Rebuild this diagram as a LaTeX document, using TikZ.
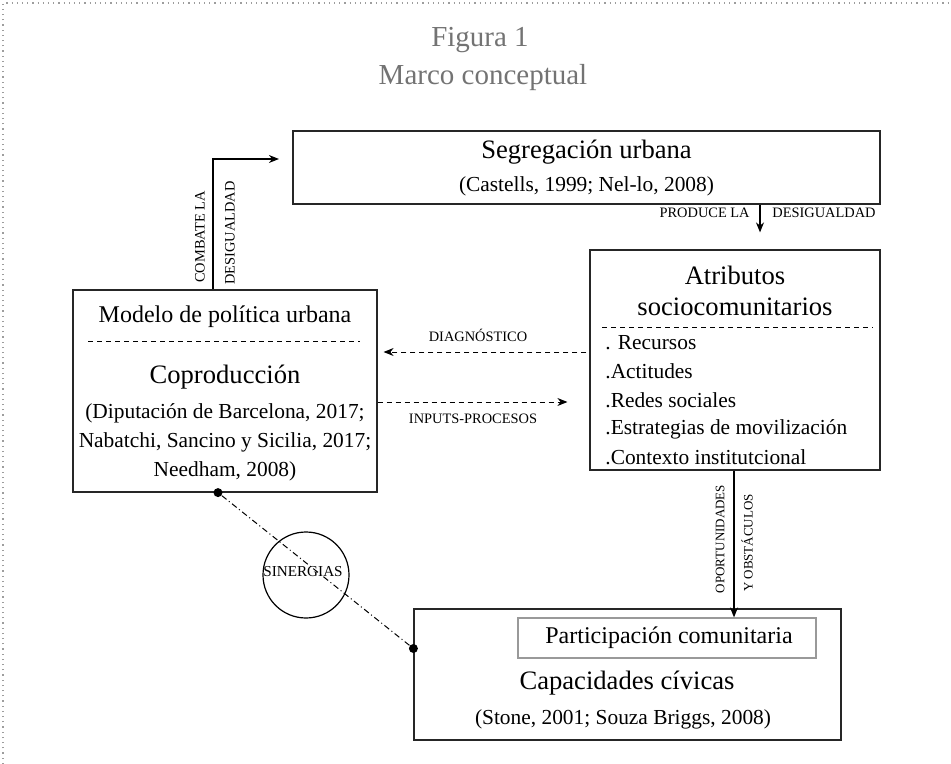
\documentclass[tikz,border=0pt]{standalone}
\usepackage{fontspec}
\setmainfont{Liberation Serif}
\usetikzlibrary{arrows.meta}
\definecolor{titlegray}{gray}{0.45}
\tikzset{
	box/.style={draw=black!85, line width=0.6pt, inner sep=0pt},
	arr/.style={-{Stealth[length=5pt,width=4pt]}, line width=0.6pt},
	dsh/.style={dash pattern=on 2.5pt off 2pt, line width=0.5pt},
	lbl/.style={font=\fontsize{7.2}{8}\selectfont, inner sep=0pt},
	big/.style={font=\fontsize{13.3}{15}\selectfont, inner sep=0pt},
	ref/.style={font=\fontsize{10.7}{14.5}\selectfont, inner sep=0pt, align=center},
	dot/.style={circle, fill=black, inner sep=0pt, minimum size=4.5pt},
}
\begin{document}
\begin{tikzpicture}[x=0.5pt,y=-0.5pt]
	\useasboundingbox (0,0) rectangle (951,764);
	\draw[titlegray!70, dotted, line width=0.6pt] (3,764) -- (3,3) -- (951,3);
	
	% titulo
	\node[font=\fontsize{14.5}{16}\selectfont, text=titlegray] (fig) at (480,40) {Figura 1};
	\node[font=\fontsize{14.5}{16}\selectfont, text=titlegray] (marco) at (483,78) {Marco conceptual};
	
	% cajas
	\node[box, line width=1.1pt, minimum width=293.5pt, minimum height=36.5pt] (seg) at (586.5,167.5) {};
	\node[box, minimum width=152pt, minimum height=101pt] (mod) at (225,391) {};
	\node[box, minimum width=145pt, minimum height=110pt] (atr) at (735,360) {};
	\node[box, minimum width=213.5pt, minimum height=65.5pt] (cap) at (627.5,674.5) {};
	\node[draw=black!40, line width=0.6pt, minimum width=149pt, minimum height=20pt, inner sep=0pt] (part) at (667,638) {};
	
	% segregacion
	\node[big] (segt) at (586.5,152) {Segregación urbana};
	\node[ref] (segr) at (586.5,186) {(Castells, 1999; Nel-lo, 2008)};
	
	% modelo
	\node[font=\fontsize{12}{14}\selectfont, inner sep=0pt] (modt) at (225,317) {Modelo de política urbana};
	\draw[dsh] (88,341) -- (360,341);
	\node[big] (copt) at (225,377) {Coproducción};
	\node[ref] (copr) at (225,442) {(Diputación de Barcelona, 2017;\\ Nabatchi, Sancino y Sicilia, 2017;\\ Needham, 2008)};
	
	% atributos
	\node[big] (atrt) at (735,275) {Atributos};
	\node[big] (atrs) at (735,307) {sociocomunitarios};
	\draw[dsh] (602,327) -- (873,327);
	\foreach \txt/\yy [count=\i] in {. Recursos/343, .Actitudes/371, .Redes sociales/400, .Estrategias de movilización/429, .Contexto institutcional/457}
		\node[ref, anchor=west] (item\i) at (605,\yy) {\txt};
	
	% capacidades
	\node[font=\fontsize{12}{14}\selectfont, inner sep=0pt] (partt) at (669,638) {Participación comunitaria};
	\node[big] (capt) at (627,683) {Capacidades cívicas};
	\node[ref] (capr) at (623,719) {(Stone, 2001; Souza Briggs, 2008)};
	
	% conectores
	\coordinate (cmb) at (213,159);
	\draw[arr] (cmb |- mod.north) -- (cmb) -- ([xshift=-6.5pt]cmb -| seg.west);
	\node[lbl, rotate=90] (cmb1) at (200,237) {COMBATE LA};
	\node[lbl, rotate=90] (cmb2) at (230,233) {DESIGUALDAD};
	
	\coordinate (prd) at (760,0);
	\draw[arr] (prd |- seg.south) -- ([yshift=8.5pt]prd |- atr.north);
	\node[lbl, anchor=east] (prd1) at (750,213) {PRODUCE LA};
	\node[lbl, anchor=west] (prd2) at (772,213) {DESIGUALDAD};
	
	\coordinate (dg) at (0,352);
	\draw[arr, dsh] ([xshift=-1.5pt]dg -| atr.west) -- ([xshift=3pt]dg -| mod.east);
	\node[lbl] (dglbl) at (478,335) {DIAGNÓSTICO};
	
	\coordinate (ip) at (0,402);
	\draw[arr, dsh] (ip -| mod.east) -- ([xshift=-11pt]ip -| atr.west);
	\node[lbl] (iplbl) at (473,419) {INPUTS-PROCESOS};
	
	\coordinate (op) at (734,0);
	\draw[arr] (op |- atr.south) -- (op |- part.north);
	\node[lbl, font=\fontsize{6.5}{7}\selectfont, rotate=90] (op1) at (720,539) {OPORTUNIDADES};
	\node[lbl, font=\fontsize{6.5}{7}\selectfont, rotate=90] (op2) at (747,543) {Y OBSTÁCULOS};
	
	% sinergias
	\node[dot] (d1) at ([xshift=-3.5pt]mod.south) {};
	\node[dot] (d2) at ([yshift=13pt]cap.west) {};
	\draw[dash pattern=on 3pt off 1.5pt on 0.5pt off 1.5pt, line width=0.5pt] (d1) -- (d2);
	\node[draw, circle, line width=0.6pt, minimum size=43pt, inner sep=0pt] (sin) at (306,575) {};
	\node[lbl, font=\fontsize{7.6}{8}\selectfont] (sinlbl) at (303,572) {SINERGIAS};
\end{tikzpicture}
\end{document}
